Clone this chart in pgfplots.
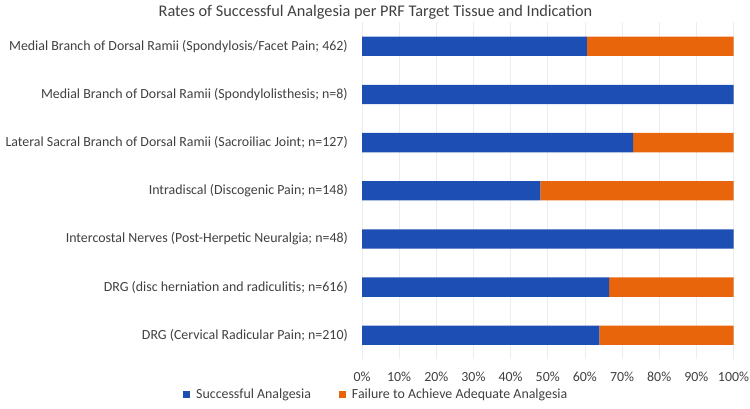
\documentclass[border=0pt]{standalone}
\usepackage{fontspec}
\setmainfont{Carlito}
\usepackage{pgfplots}
\pgfplotsset{compat=1.18}
\definecolor{cblue}{HTML}{1D4EB4}
\definecolor{corange}{HTML}{E9650C}
\definecolor{ctext}{HTML}{404040}
\begin{document}
\begin{tikzpicture}
\path[use as bounding box] (0,0) rectangle (750bp,409bp);
\begin{axis}[
  at={(362bp,49.6bp)}, anchor=south west,
  scale only axis, width=371.5bp, height=337.2bp,
  xbar stacked, bar width=19.3bp,
  xmin=0, xmax=100, ymin=-0.5, ymax=6.5, y dir=reverse,
  ytick={0,1,2,3,4,5,6},
  yticklabels={
    {Medial Branch of Dorsal Ramii (Spondylosis/Facet Pain; 462)},
    {Medial Branch of Dorsal Ramii (Spondylolisthesis; n=8)},
    {Lateral Sacral Branch of Dorsal Ramii (Sacroiliac Joint; n=127)},
    {Intradiscal (Discogenic Pain; n=148)},
    {Intercostal Nerves (Post-Herpetic Neuralgia; n=48)},
    {DRG (disc herniation and radiculitis; n=616)},
    {DRG (Cervical Radicular Pain; n=210)}},
  xtick={0,10,20,30,40,50,60,70,80,90,100},
  xticklabels={0\%,10\%,20\%,30\%,40\%,50\%,60\%,70\%,80\%,90\%,100\%},
  axis line style={draw=none}, major tick length=0pt,
  xmajorgrids, grid style={color=black!7, line width=0.75bp},
  tick label style={font=\fontsize{13.9bp}{16bp}\selectfont, text=ctext, inner sep=0pt},
  yticklabel style={anchor=east, xshift=-14bp},
  xticklabel style={anchor=base, yshift=-22bp},
  legend style={draw=none, fill=none, at={(-0.4818,-0.1026)}, anchor=west,
    legend columns=2, inner sep=0pt, font=\fontsize{13.9bp}{16bp}\selectfont, text=ctext,
    /tikz/every odd column/.append style={column sep=4bp},
    /tikz/every even column/.append style={column sep=26bp}},
  legend image code/.code={\fill[#1] (0bp,-3.5bp) rectangle (7bp,3.5bp);},
]
\addplot[fill=cblue, draw=none] coordinates {(60.5,0) (100,1) (73.0,2) (48.0,3) (100,4) (66.5,5) (63.9,6)};
\addplot[fill=corange, draw=none] coordinates {(39.5,0) (0,1) (27.0,2) (52.0,3) (0,4) (33.5,5) (36.1,6)};
\legend{Successful Analgesia, Failure to Achieve Adequate Analgesia}
\end{axis}
\node[text=ctext, font=\fontsize{16.3bp}{19bp}\selectfont] at (375.5bp,396.3bp) {Rates of Successful Analgesia per PRF Target Tissue and Indication};
\end{tikzpicture}
\end{document}
